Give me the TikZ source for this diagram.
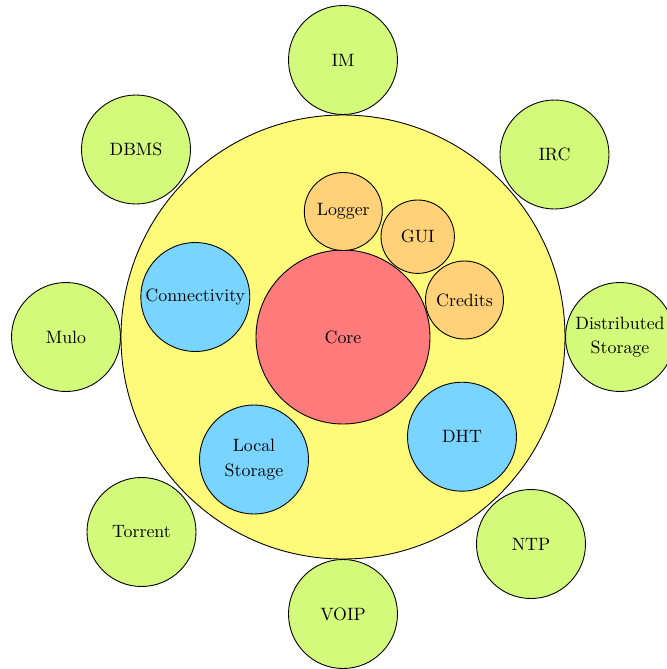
\documentclass[tikz,border=0pt]{standalone}
\begin{document}
\definecolor{appgreen}{RGB}{212,250,123}
\definecolor{hostyellow}{RGB}{255,250,122}
\definecolor{corered}{RGB}{255,122,122}
\definecolor{svcblue}{RGB}{121,213,255}
\definecolor{modorange}{RGB}{255,210,122}
\begin{tikzpicture}[x=0.56pt, y=-0.56pt,
  disk/.style={circle, draw=black, line width=0.5pt, inner sep=0pt,
               minimum size=#1*1.12pt, align=center},
  app/.style={disk=54.5, fill=appgreen},
  svc/.style={disk=54.5, fill=svcblue},
  mod/.style={disk=39, fill=modorange}]
  \useasboundingbox (0,0) rectangle (667,669);

  % host container and core
  \node[disk=222, fill=hostyellow] (host) at (343,337) {};
  \node[disk=87, fill=corered] (core) at (343,337) {Core};

  % internal modules
  \node[mod] (logger) at (343.3,211.5) {Logger};
  \node[disk=36.7, fill=modorange] (gui) at (417.7,236.7) {GUI};
  \node[mod] (credits) at (464.5,300) {Credits};

  % internal services
  \node[svc] (conn) at (195.3,297) {Connectivity};
  \node[svc] (local) at (254,459.5) {Local\\[1.6pt]Storage};
  \node[svc] (dht) at (462,436.7) {DHT};

  % applications around the host
  \node[app] (im) at (343,60) {IM};
  \node[app] (dbms) at (136,149.5) {DBMS};
  \node[app] (irc) at (554.5,154.5) {IRC};
  \node[app] (mulo) at (66,337) {Mulo};
  \node[app] (dist) at (620,337) {Distributed\\[1.6pt]Storage};
  \node[app] (torrent) at (141.5,532) {Torrent};
  \node[app] (ntp) at (531,544) {NTP};
  \node[app] (voip) at (343,614) {VOIP};
\end{tikzpicture}
\end{document}
